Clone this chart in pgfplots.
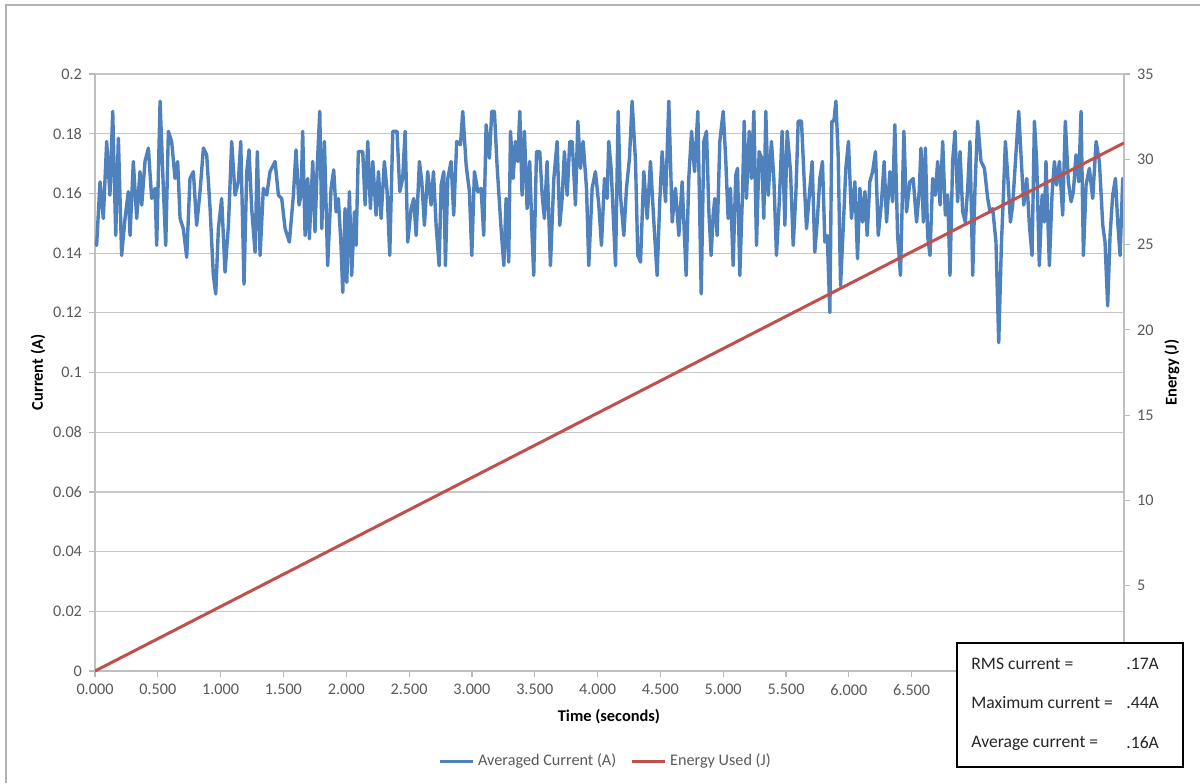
\documentclass[border=0pt]{standalone}
\usepackage{fontspec}
\setmainfont{Carlito}
\usepackage{pgfplots}
\usepackage{pgfplotstable}
\pgfplotsset{compat=1.18}
\definecolor{cblue}{HTML}{4F81BD}
\definecolor{cred}{HTML}{C0504D}
\definecolor{ctext}{HTML}{595959}
\pgfplotstableread{
t c
0.000 0.1440
0.013 0.1426
0.040 0.1639
0.066 0.1516
0.093 0.1774
0.119 0.1594
0.141 0.1875
0.165 0.1459
0.186 0.1785
0.212 0.1392
0.239 0.1516
0.265 0.1606
0.279 0.1459
0.305 0.1707
0.332 0.1516
0.358 0.1673
0.372 0.1561
0.398 0.1707
0.425 0.1752
0.451 0.1583
0.478 0.1617
0.491 0.1426
0.518 0.1909
0.544 0.1617
0.563 0.1426
0.584 0.1808
0.610 0.1774
0.637 0.1650
0.658 0.1707
0.677 0.1516
0.703 0.1482
0.730 0.1386
0.756 0.1650
0.783 0.1673
0.809 0.1493
0.836 0.1606
0.863 0.1752
0.889 0.1729
0.916 0.1549
0.942 0.1325
0.961 0.1263
0.982 0.1482
1.008 0.1583
1.035 0.1336
1.062 0.1493
1.088 0.1774
1.115 0.1594
1.141 0.1639
1.160 0.1774
1.186 0.1296
1.208 0.1673
1.226 0.1746
1.247 0.1549
1.274 0.1403
1.292 0.1740
1.314 0.1392
1.340 0.1617
1.367 0.1594
1.393 0.1673
1.433 0.1707
1.460 0.1594
1.486 0.1583
1.513 0.1482
1.547 0.1437
1.579 0.1594
1.600 0.1746
1.624 0.1561
1.640 0.1594
1.653 0.1808
1.672 0.1459
1.693 0.1650
1.706 0.1448
1.733 0.1707
1.751 0.1471
1.767 0.1673
1.789 0.1875
1.805 0.1482
1.826 0.1774
1.852 0.1358
1.879 0.1617
1.900 0.1679
1.919 0.1538
1.937 0.1583
1.958 0.1426
1.972 0.1268
1.990 0.1549
2.004 0.1302
2.025 0.1606
2.043 0.1325
2.065 0.1538
2.078 0.1426
2.096 0.1740
2.131 0.1740
2.150 0.1561
2.171 0.1774
2.192 0.1549
2.211 0.1707
2.237 0.1527
2.256 0.1673
2.277 0.1516
2.303 0.1707
2.325 0.1606
2.346 0.1392
2.370 0.1808
2.404 0.1808
2.426 0.1606
2.449 0.1650
2.468 0.1808
2.489 0.1437
2.516 0.1549
2.537 0.1583
2.556 0.1459
2.582 0.1707
2.601 0.1639
2.622 0.1493
2.648 0.1673
2.675 0.1561
2.694 0.1673
2.715 0.1493
2.739 0.1358
2.755 0.1628
2.776 0.1673
2.789 0.1358
2.808 0.1650
2.834 0.1707
2.855 0.1527
2.879 0.1774
2.909 0.1763
2.927 0.1875
2.954 0.1695
2.980 0.1606
2.999 0.1392
3.020 0.1673
3.047 0.1606
3.073 0.1617
3.094 0.1459
3.113 0.1830
3.139 0.1718
3.158 0.1875
3.179 0.1875
3.200 0.1695
3.232 0.1482
3.254 0.1358
3.272 0.1583
3.293 0.1370
3.307 0.1808
3.328 0.1650
3.346 0.1774
3.365 0.1707
3.381 0.1875
3.399 0.1594
3.418 0.1808
3.439 0.1549
3.460 0.1707
3.479 0.1459
3.492 0.1325
3.514 0.1740
3.540 0.1740
3.559 0.1594
3.577 0.1516
3.598 0.1707
3.625 0.1358
3.652 0.1650
3.678 0.1774
3.699 0.1493
3.718 0.1583
3.736 0.1740
3.758 0.1594
3.779 0.1774
3.798 0.1774
3.824 0.1561
3.843 0.1842
3.864 0.1684
3.885 0.1774
3.912 0.1617
3.930 0.1358
3.957 0.1617
3.983 0.1673
4.010 0.1561
4.031 0.1426
4.055 0.1650
4.076 0.1583
4.089 0.1774
4.108 0.1684
4.143 0.1358
4.164 0.1875
4.182 0.1594
4.209 0.1459
4.230 0.1617
4.254 0.1718
4.275 0.1909
4.302 0.1707
4.320 0.1392
4.342 0.1370
4.368 0.1673
4.395 0.1516
4.421 0.1707
4.448 0.1504
4.474 0.1325
4.495 0.1572
4.514 0.1740
4.541 0.1572
4.567 0.1909
4.594 0.1504
4.620 0.1617
4.647 0.1459
4.673 0.1639
4.705 0.1325
4.726 0.1650
4.748 0.1808
4.772 0.1673
4.798 0.1875
4.825 0.1263
4.846 0.1774
4.867 0.1808
4.886 0.1538
4.904 0.1392
4.920 0.1527
4.933 0.1583
4.952 0.1459
4.973 0.1774
5.000 0.1875
5.021 0.1707
5.039 0.1516
5.058 0.1617
5.079 0.1358
5.100 0.1662
5.114 0.1684
5.132 0.1325
5.154 0.1606
5.167 0.1842
5.185 0.1583
5.207 0.1808
5.225 0.1650
5.244 0.1875
5.265 0.1426
5.286 0.1740
5.307 0.1718
5.323 0.1516
5.339 0.1875
5.358 0.1594
5.384 0.1774
5.403 0.1650
5.424 0.1392
5.445 0.1561
5.469 0.1808
5.491 0.1493
5.509 0.1808
5.536 0.1673
5.557 0.1426
5.578 0.1594
5.597 0.1842
5.623 0.1842
5.645 0.1639
5.663 0.1482
5.690 0.1617
5.708 0.1707
5.729 0.1403
5.748 0.1504
5.769 0.1650
5.790 0.1707
5.809 0.1437
5.828 0.1459
5.849 0.1201
5.865 0.1842
5.881 0.1842
5.897 0.1909
5.915 0.1729
5.934 0.1291
5.955 0.1482
5.976 0.1684
5.997 0.1774
6.021 0.1516
6.048 0.1639
6.069 0.1381
6.088 0.1617
6.109 0.1504
6.128 0.1606
6.146 0.1459
6.167 0.1639
6.189 0.1673
6.212 0.1740
6.234 0.1459
6.260 0.1572
6.281 0.1707
6.300 0.1504
6.327 0.1673
6.348 0.1572
6.366 0.1830
6.388 0.1459
6.411 0.1325
6.438 0.1808
6.459 0.1538
6.486 0.1639
6.512 0.1650
6.539 0.1504
6.560 0.1606
6.574 0.1752
6.593 0.1504
6.609 0.1752
6.627 0.1459
6.646 0.1392
6.667 0.1650
6.688 0.1594
6.707 0.1707
6.726 0.1561
6.747 0.1774
6.768 0.1527
6.787 0.1594
6.805 0.1325
6.826 0.1707
6.845 0.1808
6.866 0.1572
6.885 0.1740
6.906 0.1538
6.927 0.1504
6.946 0.1617
6.964 0.1774
6.986 0.1325
7.004 0.1617
7.025 0.1842
7.052 0.1707
7.079 0.1684
7.105 0.1583
7.124 0.1538
7.145 0.1549
7.171 0.1437
7.193 0.1100
7.214 0.1426
7.230 0.1594
7.246 0.1774
7.264 0.1662
7.286 0.1504
7.304 0.1561
7.331 0.1740
7.352 0.1875
7.373 0.1707
7.392 0.1561
7.416 0.1650
7.437 0.1493
7.458 0.1392
7.477 0.1842
7.495 0.1707
7.516 0.1358
7.538 0.1594
7.556 0.1504
7.569 0.1707
7.596 0.1358
7.617 0.1594
7.636 0.1707
7.654 0.1628
7.676 0.1707
7.702 0.1527
7.723 0.1842
7.747 0.1639
7.769 0.1572
7.787 0.1606
7.808 0.1729
7.830 0.1639
7.848 0.1875
7.867 0.1392
7.888 0.1628
7.914 0.1684
7.941 0.1583
7.968 0.1774
7.994 0.1707
8.021 0.1493
8.039 0.1437
8.060 0.1223
8.079 0.1459
8.100 0.1594
8.122 0.1650
8.140 0.1504
8.159 0.1392
8.180 0.1650
8.190 0.1594
}\currentdata
\pgfplotstableread{
t e
0.000 0.00
8.190 30.96
}\energydata
\begin{document}
\begin{tikzpicture}
\pgfplotsset{
  common/.style={
    scale only axis, width=514.5pt, height=298.5pt,
    xmin=0, xmax=8.19,
    /pgf/number format/assume math mode=true,
    tick align=outside, major tick length=3pt,
    tick style={gray!55, line width=0.6pt},
    axis line style={gray!50, line width=0.6pt},
    ticklabel style={font=\fontsize{8.1}{10}\selectfont, text=ctext},
    label style={font=\bfseries\fontsize{8.2}{10}\selectfont, text=black},
  }
}
\begin{axis}[common,
  ymin=0, ymax=0.2,
  axis y line*=left, axis x line*=bottom,
  xtick={0,0.5,1,1.5,2,2.5,3,3.5,4,4.5,5,5.5,6,6.5},
  ytick={0,0.02,0.04,0.06,0.08,0.1,0.12,0.14,0.16,0.18,0.2},
  xticklabel style={/pgf/number format/.cd, fixed, fixed zerofill, precision=3},
  yticklabel style={/pgf/number format/.cd, fixed, precision=2},
  ymajorgrids, grid style={gray!45, line width=0.6pt},
  xlabel={Time (seconds)},
  xlabel style={at={(axis description cs:0.4995,-0.077)}, anchor=center},
  ylabel={Current (A)},
  ylabel style={at={(axis description cs:-0.0554,0.5)}, anchor=center},
]
\addplot[cblue, line width=1.7pt, line join=round] table[x=t, y=c] {\currentdata};
\node[font=\bfseries\fontsize{14}{16}\selectfont] at (axis description cs:0.4956,1.0603) {Idle};
\end{axis}
\begin{axis}[common,
  ymin=0, ymax=35,
  axis y line*=right, axis x line=none,
  ytick={5,10,15,20,25,30,35},
  ylabel={Energy (J)},
  ylabel style={at={(axis description cs:1.0466,0.5)}, anchor=center},
  legend style={at={(axis description cs:0.497,-0.151)}, anchor=center, draw=none, fill=none,
    legend columns=2, font=\fontsize{8.1}{10}\selectfont, text=ctext,
    /tikz/every even column/.append style={column sep=5pt}},
  legend cell align=left,
  legend image code/.code={\draw[#1] (0pt,0pt) -- (16.5pt,0pt);},
]
\addlegendimage{cblue, line width=1.5pt}
\addlegendentry{Averaged Current (A)}
\addplot[cred, line width=1.5pt] table[x=t, y=e] {\energydata};
\addlegendentry{Energy Used (J)}
\end{axis}
\draw[black, line width=1.1pt, fill=white] (431pt,14pt) rectangle (544pt,-48pt);
\begin{scope}[every node/.style={font=\fontsize{8.8}{10}\selectfont, text=black!85, anchor=west, inner sep=0pt}]
\node at (438pt,3.5pt) {RMS current =};
\node at (515.5pt,3.5pt) {.17A};
\node at (438pt,-16pt) {Maximum current =};
\node at (515.5pt,-16pt) {.44A};
\node at (438pt,-36pt) {Average current =};
\node at (515.5pt,-36pt) {.16A};
\end{scope}
\draw[gray!60, line width=0.7pt] (-44.5pt,-56pt) -- (-44.5pt,333pt) -- (552.5pt,333pt);
\pgfresetboundingbox
\path[use as bounding box] (-47.5pt,-56pt) rectangle (552.5pt,335.5pt);
\end{tikzpicture}
\end{document}
